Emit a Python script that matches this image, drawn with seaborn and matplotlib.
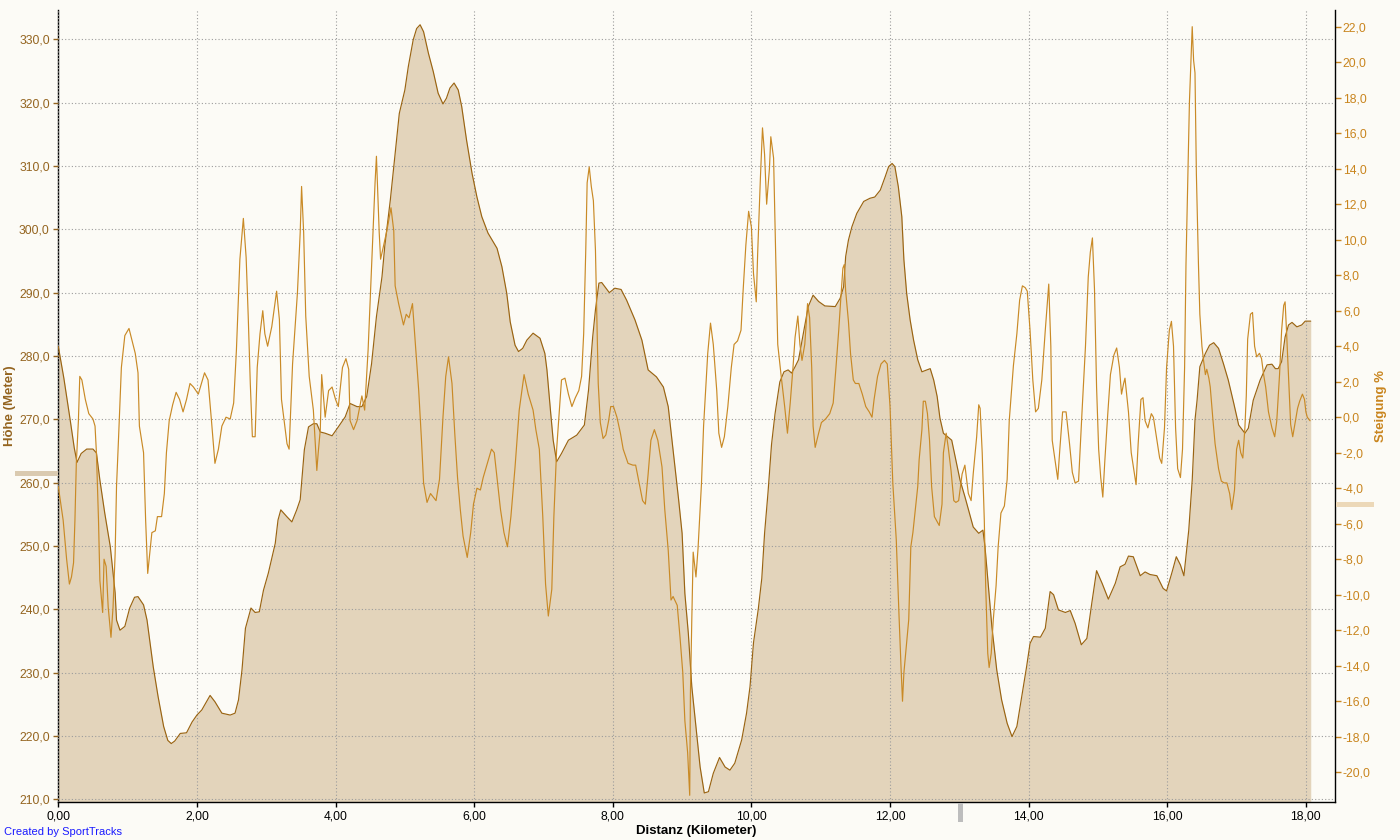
import numpy as np
import pandas as pd
import matplotlib
matplotlib.use("Agg")
import matplotlib.pyplot as plt
from matplotlib.patches import Rectangle
from matplotlib.ticker import FuncFormatter
import seaborn as sns

# elevation profile (Distanz km / Höhe m)
elev_km = [0.00, 0.08, 0.17, 0.23, 0.27, 0.33, 0.41, 0.50, 0.55, 0.60, 0.67, 0.75, 0.82, 0.84, 0.89,
           0.96, 1.03, 1.10, 1.15, 1.23, 1.28, 1.37, 1.44, 1.52, 1.58, 1.63, 1.68, 1.76, 1.85, 1.93,
           2.00, 2.07, 2.19, 2.26, 2.36, 2.48, 2.55, 2.60, 2.65, 2.70, 2.78, 2.84, 2.90, 2.96, 3.03,
           3.13, 3.17, 3.21, 3.30, 3.37, 3.44, 3.49, 3.51, 3.55, 3.61, 3.68, 3.73, 3.78, 3.85, 3.95,
           4.04, 4.14, 4.21, 4.31, 4.38, 4.45, 4.52, 4.59, 4.67, 4.71, 4.79, 4.86, 4.92, 5.00, 5.05,
           5.12, 5.17, 5.22, 5.27, 5.34, 5.41, 5.48, 5.55, 5.60, 5.65, 5.71, 5.77, 5.82, 5.89, 5.97,
           6.04, 6.11, 6.20, 6.33, 6.40, 6.47, 6.52, 6.59, 6.64, 6.70, 6.76, 6.85, 6.95, 7.02, 7.05,
           7.10, 7.14, 7.19, 7.26, 7.36, 7.48, 7.59, 7.65, 7.71, 7.75, 7.80, 7.84, 7.95, 8.03, 8.12,
           8.20, 8.32, 8.42, 8.51, 8.63, 8.73, 8.80, 8.87, 8.95, 9.00, 9.04, 9.09, 9.14, 9.19, 9.26,
           9.32, 9.38, 9.45, 9.54, 9.62, 9.69, 9.76, 9.86, 9.93, 9.98, 10.03, 10.10, 10.15, 10.19, 10.24,
           10.29, 10.34, 10.41, 10.47, 10.53, 10.58, 10.63, 10.68, 10.75, 10.82, 10.89, 10.97, 11.06, 11.21, 11.28,
           11.33, 11.36, 11.40, 11.45, 11.52, 11.62, 11.71, 11.78, 11.86, 11.93, 11.98, 12.03, 12.07, 12.12, 12.17,
           12.20, 12.24, 12.29, 12.34, 12.40, 12.46, 12.53, 12.58, 12.63, 12.68, 12.72, 12.77, 12.89, 13.01, 13.08,
           13.20, 13.28, 13.34, 13.37, 13.42, 13.47, 13.54, 13.61, 13.69, 13.76, 13.83, 13.90, 13.97, 14.02, 14.07,
           14.17, 14.24, 14.31, 14.36, 14.43, 14.53, 14.60, 14.67, 14.76, 14.84, 14.91, 14.98, 15.06, 15.15, 15.25,
           15.32, 15.39, 15.44, 15.51, 15.61, 15.68, 15.75, 15.85, 15.94, 15.99, 16.07, 16.13, 16.19, 16.24, 16.31,
           16.36, 16.40, 16.43, 16.47, 16.55, 16.61, 16.67, 16.74, 16.81, 16.88, 16.96, 17.03, 17.12, 17.17, 17.24,
           17.34, 17.44, 17.51, 17.56, 17.60, 17.65, 17.70, 17.75, 17.80, 17.87, 17.94, 17.99, 18.07]
elev_m = [281.5, 276.5, 270.0, 265.5, 263.2, 264.6, 265.3, 265.3, 264.7, 260.4, 255.2, 249.9, 242.6, 238.3, 236.7,
          237.3, 240.2, 241.9, 242.0, 240.7, 238.3, 230.9, 226.2, 221.5, 219.3, 218.8, 219.2, 220.4, 220.5, 222.2,
          223.3, 224.1, 226.4, 225.4, 223.6, 223.3, 223.6, 225.7, 230.4, 237.0, 240.2, 239.5, 239.6, 243.0, 245.7,
          250.4, 254.1, 255.7, 254.6, 253.8, 255.7, 257.3, 259.9, 265.2, 268.8, 269.3, 269.3, 268.0, 267.8, 267.4,
          268.8, 270.4, 272.5, 272.0, 272.0, 273.6, 278.8, 286.2, 292.5, 297.3, 304.6, 312.0, 318.3, 322.0, 325.7,
          329.9, 331.7, 332.3, 331.2, 327.8, 324.9, 321.5, 319.8, 320.7, 322.3, 323.1, 322.0, 319.4, 314.1, 308.8,
          305.1, 302.0, 299.4, 297.0, 294.1, 289.9, 285.4, 281.7, 280.7, 281.2, 282.5, 283.6, 282.8, 280.4, 277.8,
          271.5, 266.7, 263.3, 264.6, 266.7, 267.5, 269.1, 274.6, 283.0, 287.3, 291.5, 291.6, 290.0, 290.7, 290.5,
          288.8, 285.7, 282.5, 277.8, 276.7, 275.1, 272.0, 265.1, 257.3, 252.0, 242.5, 236.2, 227.8, 222.5, 215.1,
          211.0, 211.2, 214.1, 216.6, 215.1, 214.6, 215.7, 219.4, 223.6, 227.8, 234.7, 240.1, 244.9, 252.0, 258.5,
          266.0, 270.8, 275.9, 277.5, 277.8, 277.3, 278.3, 279.4, 283.6, 287.8, 289.6, 288.6, 287.9, 287.8, 289.1,
          290.9, 295.7, 298.3, 300.4, 302.5, 304.4, 304.9, 305.1, 306.2, 308.3, 309.9, 310.4, 309.9, 306.7, 302.0,
          295.2, 289.9, 285.7, 282.5, 279.4, 277.5, 277.8, 278.0, 276.2, 273.6, 270.2, 267.8, 266.7, 260.4, 257.8,
          253.0, 252.0, 252.5, 249.9, 243.6, 237.2, 230.4, 225.7, 222.0, 219.9, 221.5, 226.2, 230.9, 234.6, 235.7,
          235.6, 237.0, 242.8, 242.3, 239.9, 239.5, 239.8, 237.8, 234.4, 235.4, 240.9, 246.1, 244.1, 241.6, 244.1,
          246.7, 247.1, 248.4, 248.3, 245.3, 245.9, 245.5, 245.3, 243.3, 242.9, 245.9, 248.3, 247.0, 245.3, 252.5,
          260.4, 269.9, 273.0, 278.3, 280.4, 281.7, 282.1, 281.2, 278.8, 276.2, 272.5, 269.1, 267.8, 268.6, 273.0,
          276.2, 278.6, 278.7, 278.0, 278.0, 279.1, 283.0, 284.9, 285.3, 284.6, 284.9, 285.5, 285.5]

# grade profile (Distanz km / Steigung %)
grade_km = [0.00, 0.07, 0.12, 0.16, 0.19, 0.22, 0.24, 0.26, 0.29, 0.31, 0.34, 0.39, 0.44, 0.50, 0.53,
            0.55, 0.58, 0.60, 0.64, 0.66, 0.69, 0.72, 0.76, 0.79, 0.82, 0.84, 0.87, 0.91, 0.96, 1.02,
            1.11, 1.15, 1.17, 1.23, 1.26, 1.29, 1.33, 1.35, 1.40, 1.43, 1.49, 1.53, 1.56, 1.60, 1.65,
            1.70, 1.75, 1.80, 1.85, 1.90, 1.95, 2.02, 2.11, 2.16, 2.21, 2.26, 2.31, 2.36, 2.42, 2.48,
            2.53, 2.57, 2.62, 2.67, 2.71, 2.74, 2.77, 2.80, 2.84, 2.87, 2.91, 2.95, 2.98, 3.02, 3.08,
            3.15, 3.19, 3.22, 3.30, 3.33, 3.38, 3.45, 3.49, 3.51, 3.54, 3.57, 3.62, 3.68, 3.73, 3.75,
            3.78, 3.80, 3.85, 3.90, 3.95, 4.00, 4.04, 4.10, 4.15, 4.19, 4.21, 4.26, 4.31, 4.38, 4.42,
            4.47, 4.52, 4.57, 4.59, 4.63, 4.65, 4.69, 4.74, 4.80, 4.84, 4.86, 4.91, 4.98, 5.02, 5.06,
            5.11, 5.15, 5.20, 5.24, 5.27, 5.32, 5.37, 5.45, 5.50, 5.55, 5.59, 5.63, 5.68, 5.72, 5.76,
            5.80, 5.84, 5.90, 5.95, 5.99, 6.04, 6.09, 6.13, 6.19, 6.25, 6.29, 6.33, 6.38, 6.43, 6.48,
            6.53, 6.59, 6.65, 6.72, 6.78, 6.85, 6.89, 6.94, 6.99, 7.03, 7.07, 7.12, 7.15, 7.19, 7.24,
            7.26, 7.31, 7.36, 7.41, 7.46, 7.51, 7.55, 7.58, 7.61, 7.63, 7.66, 7.69, 7.72, 7.75, 7.77,
            7.79, 7.82, 7.86, 7.90, 7.94, 7.97, 8.01, 8.06, 8.11, 8.15, 8.22, 8.29, 8.33, 8.38, 8.43,
            8.47, 8.51, 8.55, 8.60, 8.65, 8.71, 8.75, 8.80, 8.84, 8.87, 8.93, 8.97, 9.01, 9.04, 9.08,
            9.11, 9.12, 9.14, 9.16, 9.20, 9.23, 9.28, 9.31, 9.34, 9.37, 9.41, 9.45, 9.50, 9.53, 9.57,
            9.61, 9.66, 9.71, 9.75, 9.80, 9.85, 9.88, 9.92, 9.96, 10.00, 10.03, 10.07, 10.09, 10.13, 10.16,
            10.19, 10.22, 10.26, 10.28, 10.32, 10.35, 10.38, 10.43, 10.48, 10.52, 10.56, 10.60, 10.63, 10.67, 10.70,
            10.73, 10.77, 10.81, 10.84, 10.87, 10.89, 10.92, 10.97, 11.01, 11.07, 11.13, 11.18, 11.22, 11.26, 11.29,
            11.32, 11.34, 11.36, 11.40, 11.43, 11.47, 11.50, 11.55, 11.60, 11.65, 11.70, 11.74, 11.77, 11.82, 11.87,
            11.92, 11.96, 12.00, 12.04, 12.09, 12.13, 12.16, 12.18, 12.20, 12.23, 12.27, 12.30, 12.33, 12.36, 12.40,
            12.42, 12.46, 12.48, 12.51, 12.54, 12.57, 12.60, 12.64, 12.71, 12.75, 12.77, 12.81, 12.84, 12.88, 12.92,
            12.95, 12.99, 13.04, 13.08, 13.13, 13.17, 13.20, 13.25, 13.28, 13.30, 13.33, 13.36, 13.38, 13.41, 13.43,
            13.46, 13.49, 13.53, 13.56, 13.60, 13.65, 13.69, 13.72, 13.78, 13.83, 13.87, 13.91, 13.95, 13.98, 14.02,
            14.06, 14.10, 14.14, 14.19, 14.24, 14.29, 14.32, 14.34, 14.38, 14.42, 14.45, 14.49, 14.54, 14.59, 14.63,
            14.67, 14.72, 14.77, 14.82, 14.86, 14.89, 14.92, 14.95, 14.98, 15.01, 15.04, 15.07, 15.10, 15.14, 15.18,
            15.23, 15.27, 15.31, 15.34, 15.37, 15.39, 15.44, 15.48, 15.55, 15.58, 15.62, 15.65, 15.68, 15.72, 15.77,
            15.80, 15.85, 15.89, 15.92, 15.96, 15.99, 16.03, 16.06, 16.09, 16.12, 16.15, 16.19, 16.22, 16.25, 16.27,
            16.30, 16.32, 16.35, 16.36, 16.38, 16.40, 16.42, 16.45, 16.47, 16.50, 16.52, 16.55, 16.57, 16.60, 16.62,
            16.66, 16.69, 16.74, 16.78, 16.82, 16.86, 16.90, 16.93, 16.97, 17.00, 17.03, 17.06, 17.09, 17.12, 17.14,
            17.16, 17.20, 17.23, 17.26, 17.29, 17.33, 17.36, 17.39, 17.42, 17.46, 17.51, 17.55, 17.58, 17.62, 17.65,
            17.68, 17.70, 17.72, 17.75, 17.78, 17.81, 17.84, 17.88, 17.91, 17.95, 17.98, 18.00, 18.02, 18.06]
grade_pct = [-3.9, -5.8, -8.0, -9.4, -9.0, -8.2, -5.8, -2.6, -0.2, 2.3, 2.1, 1.0, 0.2, -0.1, -0.5,
             -2.0, -5.8, -9.2, -11.0, -8.0, -8.4, -10.7, -12.4, -10.7, -7.7, -3.9, -1.1, 2.8, 4.6, 5.0,
             3.6, 2.5, -0.5, -2.0, -5.8, -8.8, -7.3, -6.5, -6.4, -5.6, -5.6, -4.3, -2.0, -0.2, 0.7,
             1.4, 1.0, 0.3, 1.0, 1.9, 1.7, 1.3, 2.5, 2.1, -0.2, -2.6, -1.8, -0.5, 0.0, -0.1,
             0.8, 3.8, 8.9, 11.2, 9.0, 5.7, 1.9, -1.1, -1.1, 2.8, 4.7, 6.0, 4.7, 4.0, 5.1,
             7.1, 5.5, 1.0, -1.5, -1.8, 3.0, 7.0, 10.4, 13.0, 10.4, 5.7, 2.3, 0.4, -3.0, -2.0,
             -0.7, 2.4, 0.0, 1.5, 1.7, 1.0, 0.6, 2.8, 3.3, 2.7, -0.2, -0.7, -0.2, 1.2, 0.4,
             3.8, 8.5, 13.2, 14.7, 10.4, 8.9, 9.6, 10.5, 11.8, 10.5, 7.4, 6.4, 5.2, 5.8, 5.6,
             6.4, 4.2, 1.5, -1.3, -3.7, -4.8, -4.3, -4.7, -3.5, 0.0, 2.3, 3.4, 1.9, -0.9, -3.4,
             -5.2, -6.7, -7.9, -6.5, -4.9, -4.0, -4.1, -3.4, -2.6, -1.8, -2.0, -3.4, -5.2, -6.5, -7.3,
             -5.6, -2.8, 0.4, 2.4, 1.3, 0.4, -0.7, -1.8, -5.6, -9.4, -11.2, -9.7, -5.6, -1.8, 1.0,
             2.1, 2.2, 1.3, 0.6, 1.1, 1.5, 2.3, 4.7, 9.4, 13.2, 14.1, 13.0, 12.2, 9.4, 5.7,
             1.9, -0.3, -1.2, -1.0, -0.2, 0.6, 0.6, 0.0, -0.9, -1.8, -2.6, -2.7, -2.7, -3.7, -4.7,
             -4.9, -3.2, -1.3, -0.7, -1.3, -2.8, -5.2, -7.5, -10.3, -10.1, -10.6, -12.4, -14.4, -17.1, -18.9,
             -21.3, -15.6, -11.4, -7.6, -9.0, -7.4, -3.7, -0.5, 1.5, 3.6, 5.3, 4.1, 1.5, -0.9, -1.7,
             -1.1, 0.6, 2.8, 4.1, 4.3, 4.9, 7.1, 9.7, 11.6, 10.7, 8.1, 6.5, 9.2, 13.5, 16.3,
             14.8, 12.0, 14.0, 15.8, 14.6, 9.2, 4.1, 2.3, 0.6, -0.9, 0.8, 2.8, 4.5, 5.7, 4.1,
             3.2, 4.1, 6.4, 5.6, 2.8, -0.5, -1.7, -0.9, -0.3, -0.1, 0.2, 0.8, 2.8, 4.9, 6.7,
             8.4, 8.6, 7.1, 5.4, 3.6, 2.1, 1.9, 1.9, 1.3, 0.6, 0.3, 0.0, 1.0, 2.3, 3.0,
             3.2, 3.0, 0.6, -3.7, -6.9, -11.2, -14.2, -16.0, -14.4, -13.1, -11.4, -7.3, -6.5, -5.4, -3.9,
             -2.4, -0.7, 0.9, 0.9, 0.2, -1.3, -3.9, -5.6, -6.1, -4.9, -2.0, -0.9, -1.7, -3.0, -4.7,
             -4.8, -4.7, -3.2, -2.7, -4.3, -4.7, -3.2, -1.1, 0.7, 0.5, -2.0, -5.8, -9.5, -13.3, -14.1,
             -13.3, -11.4, -9.5, -7.3, -5.4, -5.0, -3.5, -0.2, 2.9, 4.7, 6.6, 7.4, 7.3, 7.1, 4.9,
             2.1, 0.3, 0.5, 2.1, 4.9, 7.5, 4.0, -1.3, -2.4, -3.5, -1.8, 0.3, 0.3, -1.5, -3.1,
             -3.7, -3.6, 0.3, 4.0, 7.9, 9.3, 10.1, 7.2, 1.7, -1.8, -3.4, -4.5, -2.4, 0.1, 2.4,
             3.5, 3.9, 2.8, 1.3, 1.9, 2.2, 0.3, -2.0, -3.8, -1.5, 1.0, 1.1, -0.2, -0.6, 0.2,
             0.0, -1.3, -2.3, -2.6, -0.6, 2.8, 4.9, 5.4, 4.0, -0.6, -2.9, -3.4, -1.8, 2.8, 8.6,
             14.3, 17.8, 21.0, 22.0, 20.1, 19.4, 13.7, 8.6, 5.8, 4.0, 3.3, 2.4, 2.7, 2.2, 1.7,
             -0.2, -1.5, -2.9, -3.6, -3.7, -3.7, -4.3, -5.2, -4.1, -1.8, -1.3, -2.0, -2.3, -0.6, 1.2,
             4.4, 5.8, 5.9, 4.0, 3.4, 3.6, 3.3, 2.4, 1.7, 0.3, -0.6, -1.1, -0.2, 2.4, 4.9,
             6.3, 6.5, 4.9, 2.2, -0.4, -1.1, -0.4, 0.5, 0.9, 1.3, 1.0, 0.3, 0.0, -0.2]

elev_ticks = np.arange(210, 331, 10)
grade_ticks = np.arange(-20, 23, 2)
dist_ticks = np.arange(0, 19, 2)

BG = "#fcfbf6"
FILL = "#e3d4bb"
ELEV_LINE = "#9a6412"
GRADE_LINE = "#c98a26"
BROWN = "#94641f"
ORANGE = "#c9851e"

sns.set_theme(style="white")
plt.rcParams["font.family"] = ["Liberation Sans", "DejaVu Sans"]

elev_df = pd.DataFrame({"km": elev_km, "hoehe": elev_m})
grade_df = pd.DataFrame({"km": grade_km, "steigung": grade_pct})

fig = plt.figure(figsize=(14, 8.4), dpi=100, facecolor=BG)
ax = fig.add_axes([58.3 / 1400, 1 - 801.7 / 840, (1335 - 58.3) / 1400, (801.7 - 10) / 840])
ax.set_facecolor(BG)

ax.fill_between(elev_df["km"], elev_df["hoehe"], 200, color=FILL, lw=0, zorder=1)
sns.lineplot(data=elev_df, x="km", y="hoehe", ax=ax, color=ELEV_LINE, linewidth=0.85,
             estimator=None, sort=False, zorder=3)

ax.set_xlim(0, 18.42)
ax.set_ylim(209.62, 334.63)
ax.set_xticks(dist_ticks)
ax.set_yticks(elev_ticks)
ax.xaxis.set_major_formatter(FuncFormatter(lambda v, p: f"{v:.2f}".replace(".", ",")))
ax.yaxis.set_major_formatter(FuncFormatter(lambda v, p: f"{v:.1f}".replace(".", ",")))
ax.set_axisbelow(False)
ax.grid(True, color="#9c9c9c", linestyle=(0, (1, 2)), linewidth=0.8, zorder=2)

ax2 = ax.twinx()
sns.lineplot(data=grade_df, x="km", y="steigung", ax=ax2, color=GRADE_LINE, linewidth=0.85,
             estimator=None, sort=False)
ax2.set_ylim(-21.66, 22.94)
ax2.set_yticks(grade_ticks)
ax2.yaxis.set_major_formatter(FuncFormatter(lambda v, p: f"{v:.1f}".replace(".", ",")))
ax2.set_xlim(0, 18.42)

for s in ["top", "right"]:
    ax.spines[s].set_visible(False)
for s in ["top", "left", "bottom"]:
    ax2.spines[s].set_visible(False)
for sp in [ax.spines["left"], ax.spines["bottom"], ax2.spines["right"]]:
    sp.set_color("black")
    sp.set_linewidth(1.0)

ax.tick_params(axis="y", direction="out", length=3.6, width=1, color=BROWN,
               labelcolor=BROWN, labelsize=8.7, pad=2.6, left=True)
ax.tick_params(axis="x", direction="out", length=3.6, width=1, color="black",
               labelcolor="black", labelsize=8.7, pad=2.8, bottom=True)
ax2.tick_params(axis="y", direction="out", length=4.2, width=1, color=ORANGE,
                labelcolor=ORANGE, labelsize=8.7, pad=1.5, right=True)

ax.set_ylabel("Höhe (Meter)", fontsize=9.5, fontweight="bold", color=BROWN)
ax.yaxis.label.set_va("center")
ax.yaxis.set_label_coords(-0.0382, 0.5)
ax2.set_ylabel("Steigung %", fontsize=9.5, fontweight="bold", color=ORANGE, rotation=90)
ax2.yaxis.label.set_va("center")
ax2.yaxis.set_label_coords(1.0364, 0.5)
ax.set_xlabel("Distanz (Kilometer)", fontsize=9.5, fontweight="bold", color="black")
ax.xaxis.label.set_va("center")
ax.xaxis.set_label_coords(0.5, -0.037)

# slider markers of the original tool
fig.add_artist(Rectangle((15 / 1400, 1 - 475.5 / 840), 43 / 1400, 5 / 840,
                         transform=fig.transFigure, color="#dacab0", lw=0))
fig.add_artist(Rectangle((1336 / 1400, 1 - 507 / 840), 38 / 1400, 5 / 840,
                         transform=fig.transFigure, color="#ecd8b8", lw=0))
fig.add_artist(Rectangle((958 / 1400, 1 - 822 / 840), 5 / 1400, 19 / 840,
                         transform=fig.transFigure, color="#bdbdbd", lw=0))

fig.text(4 / 1400, 1 - 832 / 840, "Created by SportTracks", color="#1a1aff",
         fontsize=8, ha="left", va="center")

fig.savefig("out.png", dpi=100, facecolor=BG)
